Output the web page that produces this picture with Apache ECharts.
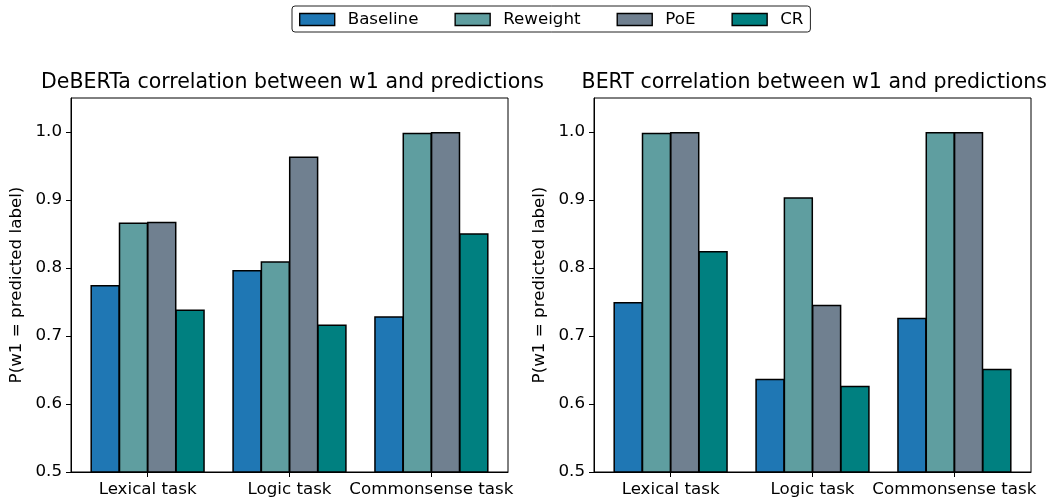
<!DOCTYPE html>
<html>
<head>
<meta charset="utf-8">
<script src="https://cdn.jsdelivr.net/npm/echarts@6/dist/echarts.min.js"></script>
<style>html,body{margin:0;padding:0;background:#fff;}#c{width:1051px;height:499px;}</style>
</head>
<body>
<div id="c"></div>
<script>
const categories = ['Lexical task', 'Logic task', 'Commonsense task'];
const seriesNames = ['Baseline', 'Reweight', 'PoE', 'CR'];
const colors = ['#1f77b4', '#5f9ea0', '#708090', '#008080'];
const debertaBaseline = [0.775, 0.797, 0.729];
const debertaReweight = [0.867, 0.810, 0.999];
const debertaPoE = [0.868, 0.964, 1.000];
const debertaCR = [0.739, 0.717, 0.851];
const bertBaseline = [0.750, 0.637, 0.727];
const bertReweight = [0.999, 0.904, 1.000];
const bertPoE = [1.000, 0.746, 1.000];
const bertCR = [0.825, 0.627, 0.652];
const yTicks = [0.5, 0.6, 0.7, 0.8, 0.9, 1.0];
const titles = ['DeBERTa correlation between w1 and predictions', 'BERT correlation between w1 and predictions'];
const yLabel = 'P(w1 = predicted label)';

const FONT = 'DejaVu Sans';
const chart = echarts.init(document.getElementById('c'));
const grids = [
  {left: 71, top: 98, width: 437, height: 374},
  {left: 594, top: 98, width: 437, height: 374}
];
const groups = [
  [debertaBaseline, debertaReweight, debertaPoE, debertaCR],
  [bertBaseline, bertReweight, bertPoE, bertCR]
];
const xAxes = [], yAxes = [], series = [];
grids.forEach((g, gi) => {
  xAxes.push({
    type: 'value', gridIndex: gi, min: -0.54, max: 2.54,
    splitLine: {show: false},
    axisLine: {show: true, onZero: false, lineStyle: {color: '#000', width: 1}},
    axisTick: {show: true, length: 5, lineStyle: {color: '#000', width: 1}, customValues: [0, 1, 2]},
    axisLabel: {customValues: [0, 1, 2], formatter: v => categories[Math.round(v)], color: '#000',
      fontFamily: FONT, fontSize: 16.7, margin: 9, hideOverlap: false}
  });
  yAxes.push({
    type: 'value', gridIndex: gi, min: 0.5, max: 1.05,
    name: yLabel, nameLocation: 'middle', nameGap: 46,
    nameTextStyle: {color: '#000', fontFamily: FONT, fontSize: 16.7},
    splitLine: {show: false},
    axisLine: {show: true, onZero: false, lineStyle: {color: '#000', width: 1}},
    axisTick: {show: true, length: 5, lineStyle: {color: '#000', width: 1}, customValues: yTicks},
    axisLabel: {customValues: yTicks, formatter: v => v.toFixed(1), color: '#000',
      fontFamily: FONT, fontSize: 16.7, margin: 9}
  });
  groups[gi].forEach((arr, si) => {
    series.push({
      type: 'bar', name: seriesNames[si], xAxisIndex: gi, yAxisIndex: gi,
      data: arr.map((v, i) => [i, v]),
      barWidth: 29.4, barGap: '-3.7%',
      itemStyle: {color: colors[si], borderColor: '#000', borderWidth: 1.5},
      emphasis: {disabled: true}
    });
  });
});

chart.setOption({
  animation: false,
  backgroundColor: '#fff',
  title: [
    {text: titles[0], left: 292.5, top: 72, padding: 0, textAlign: 'center',
      textStyle: {fontFamily: FONT, fontSize: 20.5, fontWeight: 'normal', color: '#000'}},
    {text: titles[1], left: 814.3, top: 72, padding: 0, textAlign: 'center',
      textStyle: {fontFamily: FONT, fontSize: 20.5, fontWeight: 'normal', color: '#000'}}
  ],
  legend: {
    data: seriesNames, left: 292, top: 6,
    padding: [5, 7, 4, 7], itemWidth: 35, itemHeight: 12, itemGap: 36,
    borderColor: '#222', borderWidth: 1, borderRadius: 3,
    icon: 'rect',
    itemStyle: {borderColor: '#000', borderWidth: 1.4},
    textStyle: {fontFamily: FONT, fontSize: 16.7, color: '#000', padding: [0, 0, 0, 8]}
  },
  grid: grids.map(g => Object.assign({show: true, borderColor: '#000', borderWidth: 1, backgroundColor: 'transparent'}, g)),
  xAxis: xAxes,
  yAxis: yAxes,
  series: series
});
</script>
</body>
</html>
